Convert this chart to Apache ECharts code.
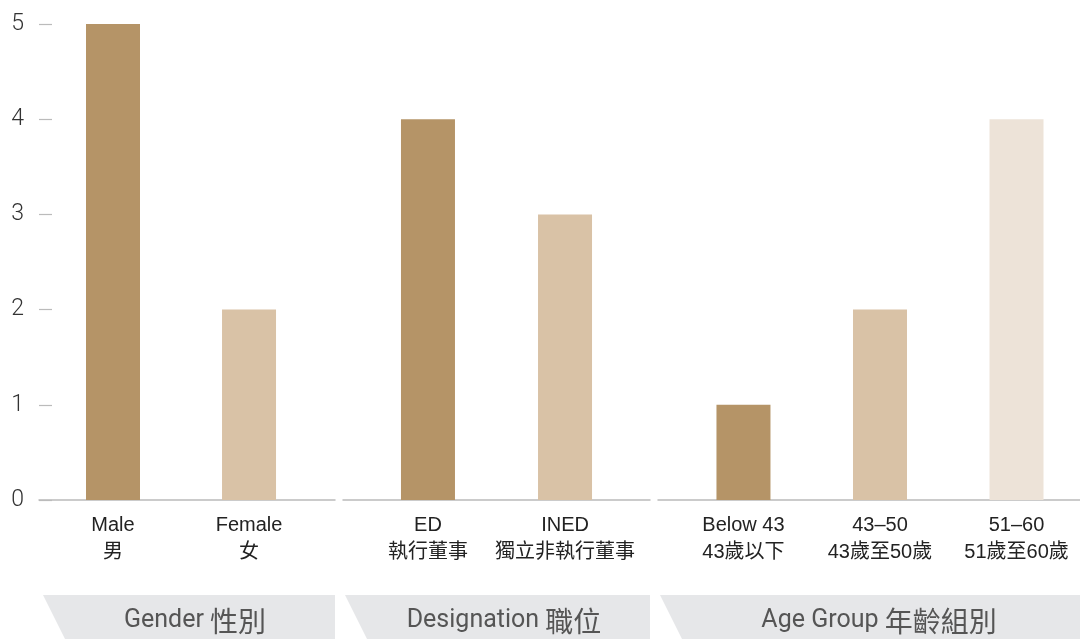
<!DOCTYPE html>
<html><head><meta charset="utf-8">
<script src="https://cdn.jsdelivr.net/npm/echarts@6/dist/echarts.min.js"></script>
<style>html,body{margin:0;padding:0;background:#fff}#c{width:1080px;height:639px}</style>
</head><body><div id="c"></div>
<script>
const genderCats = ['Male\n男', 'Female\n女'];
const genderVals = [5, 2];
const desigCats = ['ED\n執行董事', 'INED\n獨立非執行董事'];
const desigVals = [4, 3];
const ageCats = ['Below 43\n43歲以下', '43–50\n43歲至50歲', '51–60\n51歲至60歲'];
const ageVals = [1, 2, 4];
const groupTitlesEn = ['Gender ', 'Designation ', 'Age Group '];
const groupTitlesZh = ['性別', '職位', '年齡組別'];
const yTicks = [0, 1, 2, 3, 4, 5];

const shades = ['#b59467', '#d9c2a6', '#ede3d8'];
const labelFont = '"Liberation Sans", Arial, "Noto Sans CJK TC", sans-serif';

const groups = [
  {cats: genderCats, vals: genderVals, left: 39, right: 1080 - 335, min: -0.544, max: 1.632},
  {cats: desigCats, vals: desigVals, left: 343, right: 1080 - 650, min: -0.62, max: 1.62},
  {cats: ageCats, vals: ageVals, left: 658, right: 0, min: -0.626, max: 2.465}
];

const grid = groups.map(g => ({left: g.left, right: g.right, top: 24, bottom: 139, containLabel: false}));
const xAxis = groups.map((g, i) => ({
  type: 'value', gridIndex: i, min: g.min, max: g.max,
  axisLine: {show: true, onZero: false, lineStyle: {color: '#bbbbbb', width: 1.5}},
  axisTick: {show: false},
  splitLine: {show: false},
  axisLabel: {
    show: true, customValues: g.cats.map((c, k) => k),
    formatter: v => g.cats[Math.round(v)] || '',
    color: '#222', fontSize: 20, lineHeight: 27, margin: 12, fontFamily: labelFont
  }
}));
const yAxis = groups.map((g, i) => ({
  type: 'value', gridIndex: i, min: 0, max: 5, interval: 1,
  position: 'left', offset: i === 0 ? -13 : 0,
  axisLine: {show: false, onZero: false},
  axisTick: {show: i === 0, inside: false, length: 13, lineStyle: {color: '#bbbbbb', width: 1.2}},
  splitLine: {show: false},
  axisLabel: {show: i === 0, color: '#333', fontSize: 23, margin: 28,
    padding: [8, 0, 0, 0],
    fontFamily: 'Roboto, "Open Sans", sans-serif', fontWeight: 300,
    formatter: v => yTicks.includes(v) ? String(v) : ''}
}));
const series = groups.map((g, i) => ({
  type: 'bar', xAxisIndex: i, yAxisIndex: i, barWidth: 54,
  data: g.vals.map((v, k) => ({value: [k, v], itemStyle: {color: shades[k]}})),
  silent: true
}));

const bands = [[43, 335], [345, 650], [660, 1080]];
const centers = [195, 504, 879];
const graphic = [];
bands.forEach((b, i) => {
  graphic.push({type: 'polygon', silent: true, z: 0,
    shape: {points: [[b[0], 595], [b[1], 595], [b[1], 639], [b[0] + 22, 639]]},
    style: {fill: '#e6e7e9'}});
  graphic.push({type: 'text', silent: true, z: 1,
    x: centers[i], y: 621,
    style: {text: '{a|' + groupTitlesEn[i] + '}{c|' + groupTitlesZh[i] + '}',
      align: 'center', verticalAlign: 'middle',
      rich: {
        a: {fill: '#555', fontSize: 25, fontFamily: 'Roboto, sans-serif'},
        c: {fill: '#555', fontSize: 28, fontFamily: '"Noto Sans CJK TC", sans-serif'}
      }}});
});

const chart = echarts.init(document.getElementById('c'), null, {renderer: 'canvas'});
chart.setOption({animation: false, grid, xAxis, yAxis, series, graphic});
</script></body></html>
